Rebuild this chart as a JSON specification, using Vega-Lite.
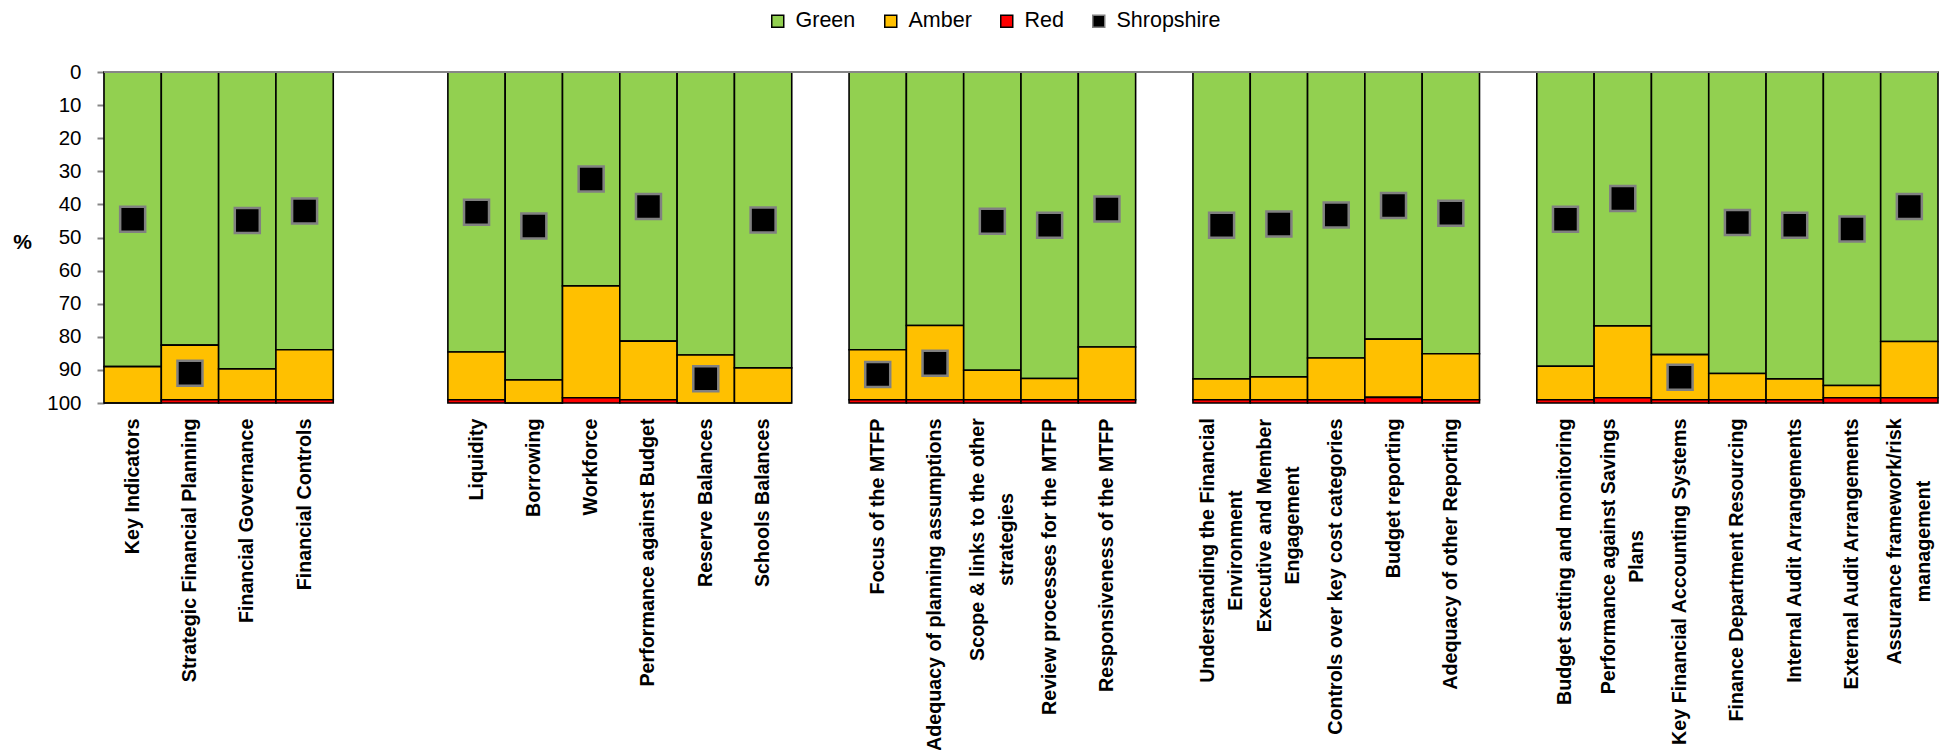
{
  "$schema": "https://vega.github.io/schema/vega-lite/v6.json",
  "autosize": {"type": "none"},
  "padding": {"left": 104, "top": 72, "right": 4, "bottom": 347},
  "width": 1834,
  "height": 331,
  "background": "white",
  "config": {
    "view": {"stroke": null},
    "font": "Liberation Sans",
    "legend": {
      "orient": "none",
      "legendX": 663,
      "legendY": -62,
      "direction": "horizontal",
      "labelFont": "Liberation Sans",
      "labelFontSize": 21.5,
      "labelColor": "black",
      "symbolType": "square",
      "symbolSize": 144,
      "symbolStrokeWidth": 1.5,
      "symbolStrokeColor": "black",
      "columnPadding": 24,
      "labelOffset": 7,
      "padding": 0
    },
    "axisY": {
      "grid": false,
      "labelOverlap": false,
      "domainColor": "#868686",
      "domainWidth": 2,
      "tickColor": "#868686",
      "tickWidth": 2,
      "tickSize": 7,
      "labelFont": "Liberation Sans",
      "labelFontSize": 20.5,
      "labelColor": "black",
      "labelPadding": 16,
      "titleAngle": 0,
      "titleX": -82,
      "titleY": 170,
      "titleAlign": "center",
      "titleBaseline": "middle",
      "titleFont": "Liberation Sans",
      "titleFontSize": 21,
      "titleFontWeight": "bold",
      "titleColor": "black"
    }
  },
  "datasets": {
    "scores": [
      {"category": "Key Indicators", "Green": 89.0, "Amber": 11.0, "Red": 0, "Shropshire": 44.5},
      {"category": "Strategic Financial Planning", "Green": 82.5, "Amber": 16.5, "Red": 1, "Shropshire": 91},
      {"category": "Financial Governance", "Green": 89.7, "Amber": 9.3, "Red": 1, "Shropshire": 44.9},
      {"category": "Financial Controls", "Green": 83.9, "Amber": 15.1, "Red": 1, "Shropshire": 42},
      {"category": "Liquidity", "Green": 84.6, "Amber": 14.4, "Red": 1, "Shropshire": 42.4},
      {"category": "Borrowing", "Green": 93, "Amber": 7, "Red": 0, "Shropshire": 46.5},
      {"category": "Workforce", "Green": 64.6, "Amber": 33.8, "Red": 1.6, "Shropshire": 32.3},
      {"category": "Performance against Budget", "Green": 81.3, "Amber": 17.7, "Red": 1, "Shropshire": 40.6},
      {"category": "Reserve Balances", "Green": 85.5, "Amber": 14.5, "Red": 0, "Shropshire": 92.7},
      {"category": "Schools Balances", "Green": 89.4, "Amber": 10.6, "Red": 0, "Shropshire": 44.7},
      {"category": "Focus of the MTFP", "Green": 83.9, "Amber": 15.1, "Red": 1, "Shropshire": 91.4},
      {"category": "Adequacy of planning assumptions", "Green": 76.6, "Amber": 22.4, "Red": 1, "Shropshire": 88},
      {"category": "Scope & links to the other strategies", "Green": 90.1, "Amber": 8.9, "Red": 1, "Shropshire": 45.1},
      {"category": "Review processes for the MTFP", "Green": 92.6, "Amber": 6.4, "Red": 1, "Shropshire": 46.3},
      {"category": "Responsiveness of the MTFP", "Green": 83.1, "Amber": 15.9, "Red": 1, "Shropshire": 41.4},
      {"category": "Understanding the Financial Environment", "Green": 92.7, "Amber": 6.3, "Red": 1, "Shropshire": 46.3},
      {"category": "Executive and Member Engagement", "Green": 92.1, "Amber": 6.9, "Red": 1, "Shropshire": 45.9},
      {"category": "Controls over key cost categories", "Green": 86.4, "Amber": 12.6, "Red": 1, "Shropshire": 43.2},
      {"category": "Budget reporting", "Green": 80.7, "Amber": 17.6, "Red": 1.7, "Shropshire": 40.3},
      {"category": "Adequacy of other Reporting", "Green": 85.1, "Amber": 13.9, "Red": 1, "Shropshire": 42.7},
      {"category": "Budget setting and monitoring", "Green": 88.9, "Amber": 10.1, "Red": 1, "Shropshire": 44.5},
      {"category": "Performance against Savings Plans", "Green": 76.7, "Amber": 21.7, "Red": 1.6, "Shropshire": 38.2},
      {"category": "Key Financial Accounting Systems", "Green": 85.4, "Amber": 13.6, "Red": 1, "Shropshire": 92.2},
      {"category": "Finance Department Resourcing", "Green": 91.1, "Amber": 7.9, "Red": 1, "Shropshire": 45.5},
      {"category": "Internal Audit Arrangements", "Green": 92.7, "Amber": 6.3, "Red": 1, "Shropshire": 46.3},
      {"category": "External Audit Arrangements", "Green": 94.7, "Amber": 3.7, "Red": 1.6, "Shropshire": 47.4},
      {"category": "Assurance framework/risk management", "Green": 81.4, "Amber": 17.0, "Red": 1.6, "Shropshire": 40.6}
    ]
  },
  "data": {"name": "scores"},
  "layer": [
    {
      "transform": [
        {"fold": ["Green", "Amber", "Red"], "as": ["status", "pct"]},
        {"calculate": "indexof(['Green','Amber','Red'], datum.status)", "as": "stackOrder"}
      ],
      "mark": {"type": "bar", "stroke": "black", "strokeWidth": 1.6},
      "encoding": {
        "x": {
          "field": "category",
          "type": "nominal",
          "scale": {
            "domain": ["Key Indicators", "Strategic Financial Planning", "Financial Governance", "Financial Controls", "gap1", "gap2",
              "Liquidity", "Borrowing", "Workforce", "Performance against Budget", "Reserve Balances", "Schools Balances", "gap3",
              "Focus of the MTFP", "Adequacy of planning assumptions", "Scope & links to the other strategies", "Review processes for the MTFP", "Responsiveness of the MTFP", "gap4",
              "Understanding the Financial Environment", "Executive and Member Engagement", "Controls over key cost categories", "Budget reporting", "Adequacy of other Reporting", "gap5",
              "Budget setting and monitoring", "Performance against Savings Plans", "Key Financial Accounting Systems", "Finance Department Resourcing", "Internal Audit Arrangements", "External Audit Arrangements", "Assurance framework/risk management"],
            "paddingInner": 0,
            "paddingOuter": 0
          },
          "axis": {
            "title": null,
            "domain": false,
            "ticks": false,
            "labelAngle": -90,
            "labelAlign": {"condition": {"test": "indexof(['Scope & links to the other strategies','Understanding the Financial Environment','Executive and Member Engagement','Performance against Savings Plans','Assurance framework/risk management'], datum.value) >= 0", "value": "center"}, "value": "right"},
            "labelBaseline": "middle",
            "labelPadding": {"condition": [
              {"test": "datum.value == 'Scope & links to the other strategies'", "value": 136},
              {"test": "datum.value == 'Understanding the Financial Environment'", "value": 147},
              {"test": "datum.value == 'Executive and Member Engagement'", "value": 122},
              {"test": "datum.value == 'Performance against Savings Plans'", "value": 153},
              {"test": "datum.value == 'Assurance framework/risk management'", "value": 138}
            ], "value": 15},
            "labelOffset": {"condition": {"test": "indexof(['Scope & links to the other strategies','Understanding the Financial Environment','Executive and Member Engagement','Performance against Savings Plans','Assurance framework/risk management'], datum.value) >= 0", "value": -14}, "value": 0},
            "labelFont": "Liberation Sans",
            "labelFontWeight": "bold",
            "labelFontSize": 19.7,
            "labelColor": "black",
            "labelLimit": 0,
            "labelOverlap": false,
            "labelLineHeight": 28.5,
            "labelExpr": "indexof(datum.value, 'gap') == 0 ? '' : datum.value == 'Scope & links to the other strategies' ? ['Scope & links to the other', 'strategies'] : datum.value == 'Understanding the Financial Environment' ? ['Understanding the Financial', 'Environment'] : datum.value == 'Executive and Member Engagement' ? ['Executive and Member', 'Engagement'] : datum.value == 'Performance against Savings Plans' ? ['Performance against Savings', 'Plans'] : datum.value == 'Assurance framework/risk management' ? ['Assurance framework/risk', 'management'] : datum.value"
          }
        },
        "y": {
          "field": "pct",
          "type": "quantitative",
          "stack": "zero",
          "scale": {"domain": [0, 100], "reverse": true, "nice": false},
          "axis": {"title": "%", "values": [0, 10, 20, 30, 40, 50, 60, 70, 80, 90, 100]}
        },
        "color": {
          "field": "status",
          "type": "nominal",
          "scale": {
            "domain": ["Green", "Amber", "Red", "Shropshire"],
            "range": ["#92D050", "#FFC000", "#FF0000", "#000000"]
          },
          "legend": {
            "title": null,
            "encode": {
              "symbols": {
                "update": {
                  "stroke": [{"test": "datum.value === 'Shropshire'", "value": "#808080"}, {"value": "black"}]
                }
              }
            }
          }
        },
        "order": {"field": "stackOrder", "type": "quantitative"}
      }
    },
    {
      "mark": {"type": "rule", "color": "#868686", "strokeWidth": 2},
      "encoding": {"y": {"datum": 0, "axis": {"title": "%", "values": [0, 10, 20, 30, 40, 50, 60, 70, 80, 90, 100]}}}
    },
    {
      "mark": {"type": "point", "shape": "square", "filled": true, "size": 625, "stroke": "#808080", "strokeWidth": 2.5, "opacity": 1},
      "encoding": {
        "x": {"field": "category", "type": "nominal"},
        "y": {"field": "Shropshire", "type": "quantitative", "axis": {"title": "%", "values": [0, 10, 20, 30, 40, 50, 60, 70, 80, 90, 100]}},
        "color": {"datum": "Shropshire"}
      }
    }
  ]
}
